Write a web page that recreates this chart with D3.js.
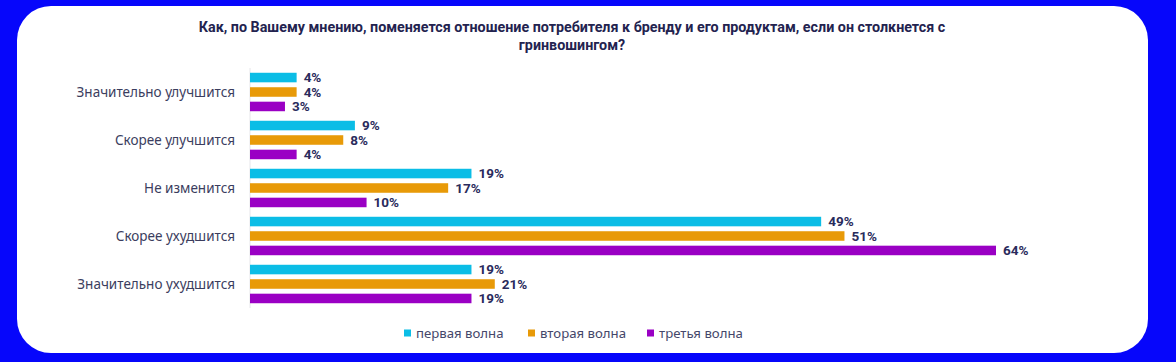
<!DOCTYPE html>
<html>
<head>
<meta charset="utf-8">
<script src="https://cdn.jsdelivr.net/npm/d3@7"></script>
<style>
  body { margin: 0; background: #0606fb; }
  svg { display: block; }
</style>
</head>
<body>
<div id="chart"></div>
<script>
const categories = ["Значительно улучшится", "Скорее улучшится", "Не изменится", "Скорее ухудшится", "Значительно ухудшится"];
const series = ["первая волна", "вторая волна", "третья волна"];
const wave1 = [4, 9, 19, 49, 19];
const wave2 = [4, 8, 17, 51, 21];
const wave3 = [3, 4, 10, 64, 19];
const titleLines = [
  "Как, по Вашему мнению, поменяется отношение потребителя к бренду и его продуктам, если он столкнется с",
  "гринвошингом?"
];

const W = 1176, H = 362;
const colors = ["#0bbde6", "#e89a08", "#9a00c4"];

const data = categories.map((c, i) => ({
  cat: c,
  vals: [wave1[i], wave2[i], wave3[i]]
}));

const svg = d3.select("#chart").append("svg")
  .attr("width", W)
  .attr("height", H);

// background + white panel
svg.append("rect").attr("width", W).attr("height", H).attr("fill", "#0606fb");
svg.append("rect")
  .attr("x", 17).attr("y", 6)
  .attr("width", 1131).attr("height", 347)
  .attr("rx", 34).attr("ry", 34)
  .attr("fill", "#fff");

// title
svg.append("g").selectAll("text")
  .data(titleLines)
  .enter().append("text")
  .attr("x", 572)
  .attr("y", (d, i) => 32 + i * 18)
  .attr("text-anchor", "middle")
  .style("font-family", "Roboto, sans-serif")
  .style("font-size", "14.3px")
  .style("font-weight", "bold")
  .attr("fill", "#23234f")
  .text(d => d);

const x = d3.scaleLinear().domain([0, 64]).range([250, 996]);

const y = d3.scaleBand()
  .domain(categories)
  .range([68, 308])
  .padding(0);

const y1 = d3.scaleBand()
  .domain(series)
  .range([0, y.bandwidth()])
  .paddingInner(0.34)
  .paddingOuter(0.33);

// axis line
svg.append("line")
  .attr("x1", x(0)).attr("x2", x(0))
  .attr("y1", 68).attr("y2", 308)
  .attr("stroke", "#e6e6ea")
  .attr("stroke-width", 1);

// category labels
svg.append("g").selectAll("text")
  .data(categories)
  .enter().append("text")
  .attr("x", 235)
  .attr("y", d => y(d) + y.bandwidth() / 2)
  .attr("dy", "0.35em")
  .attr("text-anchor", "end")
  .style("font-family", "'Noto Sans', sans-serif")
  .style("font-size", "13.5px")
  .attr("fill", "#3b3d5e")
  .text(d => d);

const groups = svg.append("g").selectAll("g")
  .data(data)
  .enter().append("g")
  .attr("transform", d => `translate(0,${y(d.cat)})`);

const cells = groups.selectAll("g")
  .data(d => d.vals.map((v, i) => ({ s: series[i], v: v, i: i })))
  .enter().append("g");

cells.append("rect")
  .attr("x", x(0))
  .attr("y", d => y1(d.s))
  .attr("width", d => x(d.v) - x(0))
  .attr("height", y1.bandwidth())
  .attr("fill", d => colors[d.i]);

cells.append("text")
  .attr("x", d => x(d.v) + 7)
  .attr("y", d => y1(d.s) + y1.bandwidth() / 2)
  .attr("dy", "0.36em")
  .style("font-family", "Roboto, sans-serif")
  .style("font-size", "13.5px")
  .style("font-weight", "bold")
  .attr("fill", "#2a2b5c")
  .text(d => d.v + "%");

// legend
const legendX = [404, 528, 647];
const legend = svg.append("g").selectAll("g")
  .data(series)
  .enter().append("g")
  .attr("transform", (d, i) => `translate(${legendX[i]},333)`);

legend.append("rect")
  .attr("x", 0).attr("y", -3.5)
  .attr("width", 7).attr("height", 7)
  .attr("fill", (d, i) => colors[i]);

legend.append("text")
  .attr("x", 12)
  .attr("dy", "0.35em")
  .style("font-family", "'Noto Sans', sans-serif")
  .style("font-size", "13.2px")
  .attr("fill", "#45476a")
  .text(d => d);
</script>
</body>
</html>
